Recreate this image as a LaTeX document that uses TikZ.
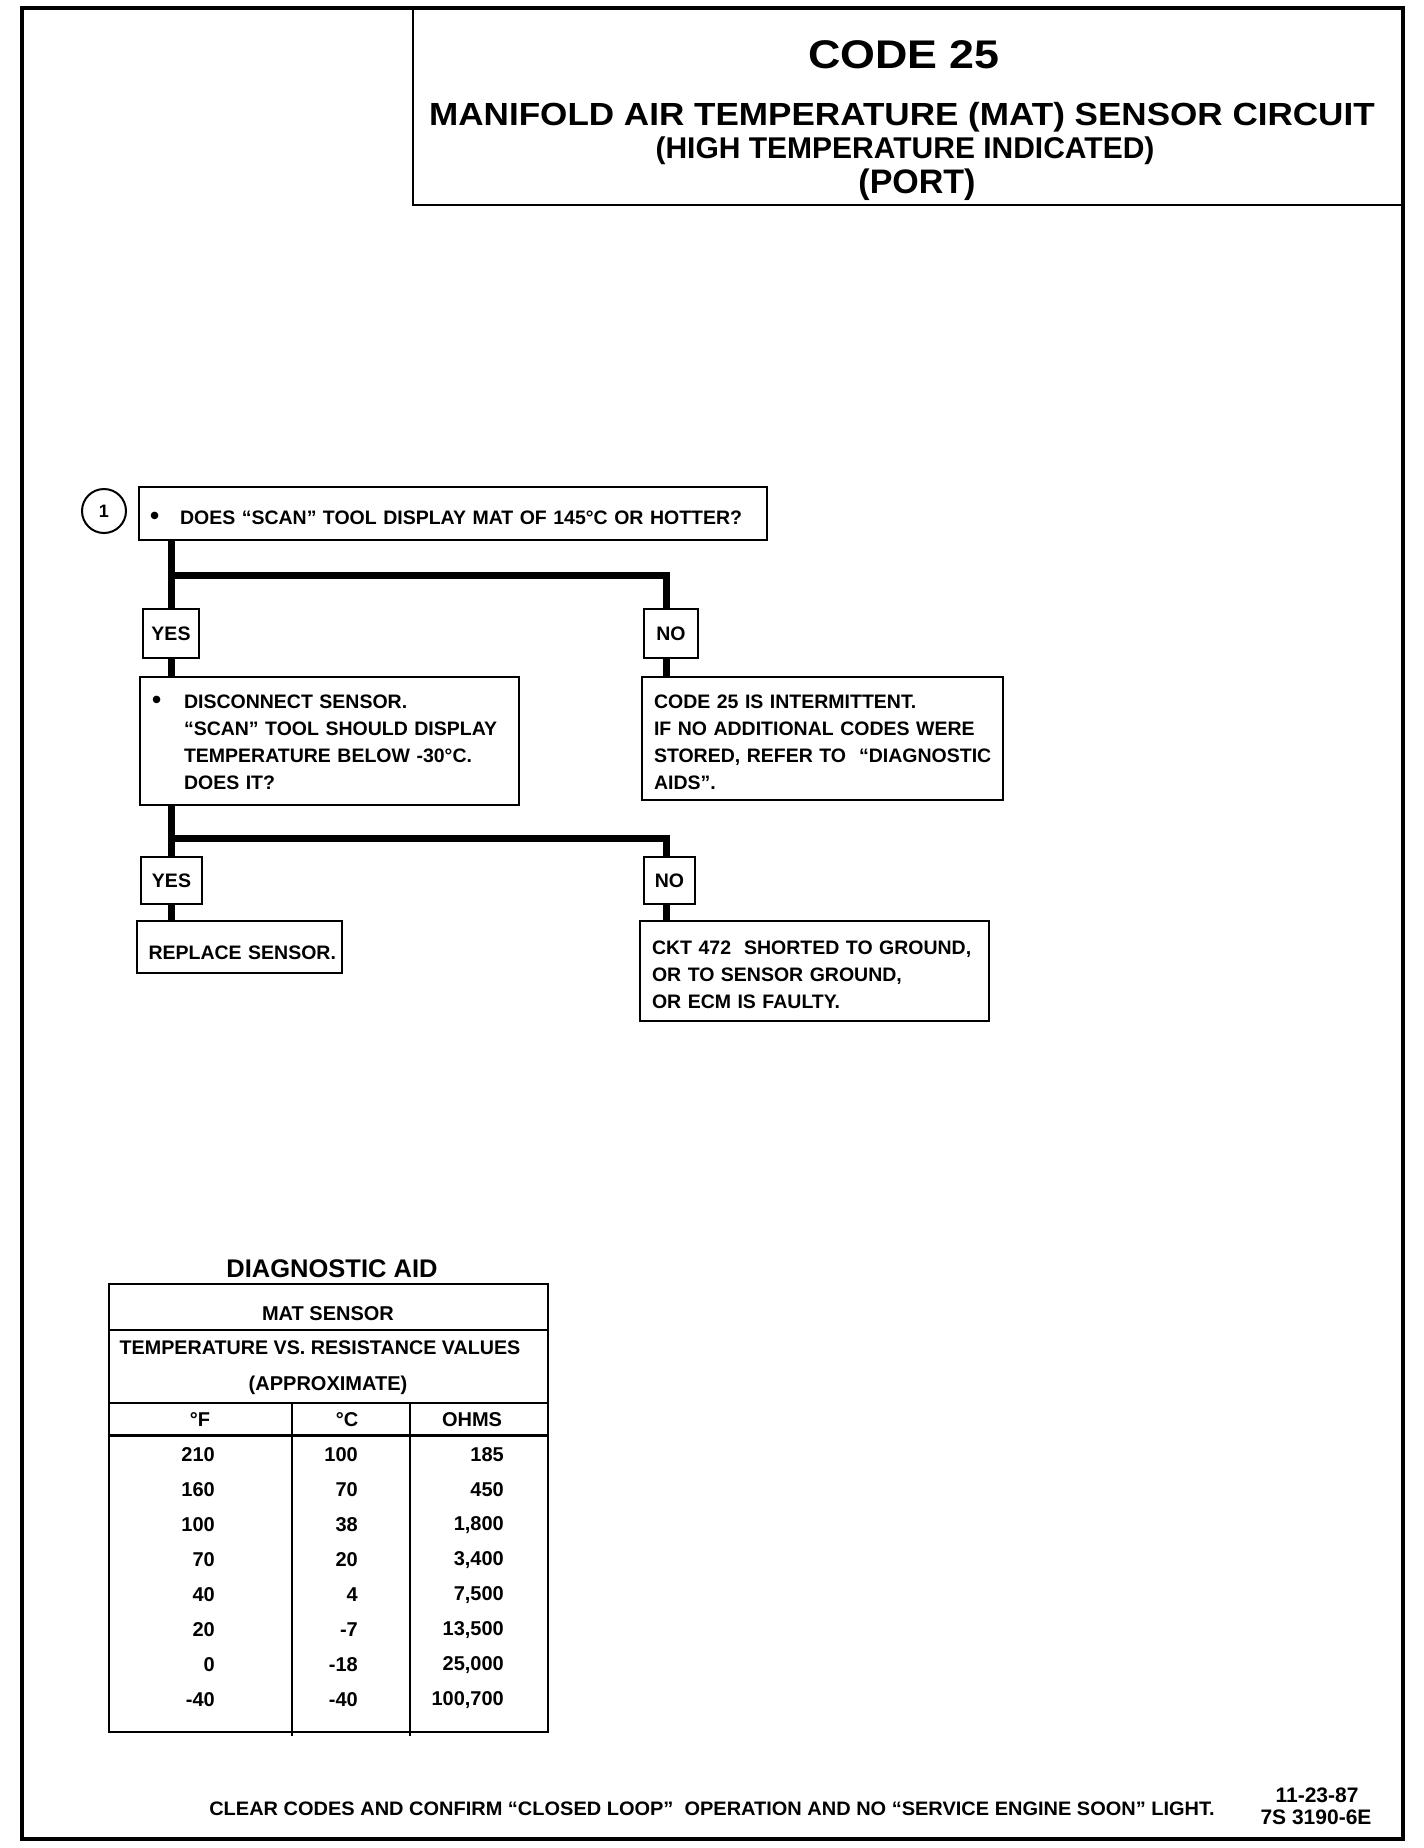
\documentclass[tikz,border=0pt]{standalone}
\usepackage{fontspec}
\setmainfont{Liberation Sans}
\newfontfamily\libwide{Liberation Sans}[FakeStretch=1.12]
\newfontfamily\libmid{Liberation Sans}[FakeStretch=1.096]
\newfontfamily\libfoot{Liberation Sans}[FakeStretch=1.025]
\newcommand\myflowfont{\fontsize{19.5}{27}\selectfont\bfseries}
\newcommand\mytabfont{\fontsize{20}{23}\selectfont\bfseries}
\newcommand\upstrut[1]{\rule{0pt}{#1pt}}
\newcommand\bigbul{{\fontsize{26}{27}\selectfont\textbullet}}
\begin{document}
\begin{tikzpicture}[x=1pt,y=-1pt,
  flow/.style={draw, line width=2pt, inner xsep=12pt, inner ysep=0pt, align=left, font=\myflowfont},
  ans/.style={draw, line width=2pt, inner sep=0pt, font=\myflowfont},
  wire/.style={line width=7pt, line join=miter},
  tt/.style={font=\mytabfont, inner sep=0pt},
  ttl/.style={inner sep=0pt, anchor=base},
  rule/.style={line width=2pt}]
\useasboundingbox (0,0) rectangle (1424,1848);
% outer frame
\draw[line width=4pt] (22,8) rectangle (1403,1839);
% title box
\draw[line width=2.2pt] (413,8) rectangle (1402,205);
\node[ttl, font=\libwide\bfseries\fontsize{40}{40}\selectfont] (t1) at (904,68) {CODE 25};
\node[ttl, font=\libmid\bfseries\fontsize{32}{32}\selectfont] (t2) at (902,125) {MANIFOLD AIR TEMPERATURE (MAT) SENSOR CIRCUIT};
\node[ttl, font=\bfseries\fontsize{30}{30}\selectfont] (t3) at (905,158) {(HIGH TEMPERATURE INDICATED)};
\node[ttl, font=\bfseries\fontsize{34}{34}\selectfont] (t4) at (917,193) {(PORT)};

% flowchart
\node[draw, circle, line width=2pt, minimum size=44pt, inner sep=0pt, font=\bfseries\fontsize{18}{18}\selectfont] (c1) at (104,511) {1};
\node[flow, inner xsep=11pt, minimum width=628pt, minimum height=53pt, text width=606pt] (b1) at (453,513.5)
  {\upstrut{23}\makebox[30pt][l]{\bigbul}DOES “SCAN” TOOL DISPLAY MAT OF 145°C OR HOTTER?};
\node[ans, minimum width=56pt, minimum height=49pt] (y1) at (171,633.5) {YES};
\node[ans, minimum width=54pt, minimum height=49pt] (n1) at (671,633.5) {NO};
\node[flow, minimum width=379pt, minimum height=128pt, text width=355pt] (b2) at (329.5,741)
  {\begin{tabular}{@{}p{32pt}@{}l@{}}\upstrut{24}\bigbul & DISCONNECT SENSOR.\\ & “SCAN” TOOL SHOULD DISPLAY\\ & TEMPERATURE BELOW -30°C.\\ & DOES IT?\end{tabular}};
\node[flow, minimum width=361pt, minimum height=123pt, text width=337pt] (b3) at (822.5,738.5)
  {\begin{tabular}{@{}l@{}}\upstrut{29}CODE 25 IS INTERMITTENT.\\ IF NO ADDITIONAL CODES WERE\\ STORED, REFER TO \ “DIAGNOSTIC\\ AIDS”.\end{tabular}};
\node[ans, minimum width=61pt, minimum height=47pt] (y2) at (171.5,880.5) {YES};
\node[ans, minimum width=51pt, minimum height=47pt] (n2) at (669.5,880.5) {NO};
\node[flow, inner xsep=11.5pt, minimum width=205pt, minimum height=52pt, text width=182pt] (b4) at (239.5,947)
  {\begin{tabular}{@{}l@{}}\upstrut{33}REPLACE SENSOR.\end{tabular}};
\node[flow, minimum width=349pt, minimum height=100pt, text width=325pt] (b5) at (814.5,971)
  {\begin{tabular}{@{}l@{}}\upstrut{28.5}CKT 472 \ SHORTED TO GROUND,\\ OR TO SENSOR GROUND,\\ OR ECM IS FAULTY.\end{tabular}};

\coordinate (j1) at (171,575);
\coordinate (k1) at (666,575);
\coordinate (j2) at (171,838);
\coordinate (k2) at (666,838);
\draw[wire] (b1.south -| j1) -- (y1.north -| j1);
\draw[wire] (j1) -- (k1) -- (k1 |- n1.north);
\draw[wire] (y1.south -| j1) -- (b2.north -| j1);
\draw[wire] (n1.south -| k1) -- (b3.north -| k1);
\draw[wire] (b2.south -| j2) -- (y2.north -| j2);
\draw[wire] (j2) -- (k2) -- (k2 |- n2.north);
\draw[wire] (y2.south -| j2) -- (b4.north -| j2);
\draw[wire] (n2.south -| k2) -- (b5.north -| k2);

% diagnostic aid table
\node[font=\bfseries\fontsize{25.5}{25.5}\selectfont, inner sep=0pt] (da) at (332,1269) {DIAGNOSTIC AID};
\draw[line width=2.5pt] (109,1284) rectangle (548,1732);
\draw[rule] (109,1330) -- (548,1330);
\draw[rule] (109,1403) -- (548,1403);
\draw[line width=3pt] (109,1435) -- (548,1435);
\draw[rule] (292,1403) -- (292,1736);
\draw[rule] (410,1403) -- (410,1736);
\node[tt] (h1) at (328,1314) {MAT SENSOR};
\node[tt, font=\fontsize{19.7}{23}\selectfont\bfseries] (h2) at (320,1348) {TEMPERATURE VS. RESISTANCE VALUES};
\node[tt] (h3) at (328,1385) {(APPROXIMATE)};
\node[tt] (hf) at (200,1420) {°F};
\node[tt] (hc) at (347,1420) {°C};
\node[tt] (ho) at (472,1420) {OHMS};
\foreach \f/\c/\o [count=\i from 0] in {210/100/185, 160/70/450, 100/38/{1,800}, 70/20/{3,400}, 40/4/{7,500}, 20/-7/{13,500}, 0/-18/{25,000}, -40/-40/{100,700}} {
  \node[tt, anchor=east] (f\i) at (215,1455+35*\i) {\f};
  \node[tt, anchor=east] (cc\i) at (358,1455+35*\i) {\c};
  \node[tt, anchor=east] (o\i) at (504,1455+35*\i) {\o};
}

% footer
\node[font=\libfoot\bfseries\fontsize{19.5}{19.5}\selectfont, inner sep=0pt] (ft) at (712,1809)
  {CLEAR CODES AND CONFIRM “CLOSED LOOP” \ OPERATION AND NO “SERVICE ENGINE SOON” LIGHT.};
\node[font=\bfseries\fontsize{21}{21}\selectfont, inner sep=0pt] (d1) at (1317,1795) {11-23-87};
\node[font=\bfseries\fontsize{21}{21}\selectfont, inner sep=0pt] (d2) at (1316,1817) {7S 3190-6E};
\end{tikzpicture}
\end{document}
